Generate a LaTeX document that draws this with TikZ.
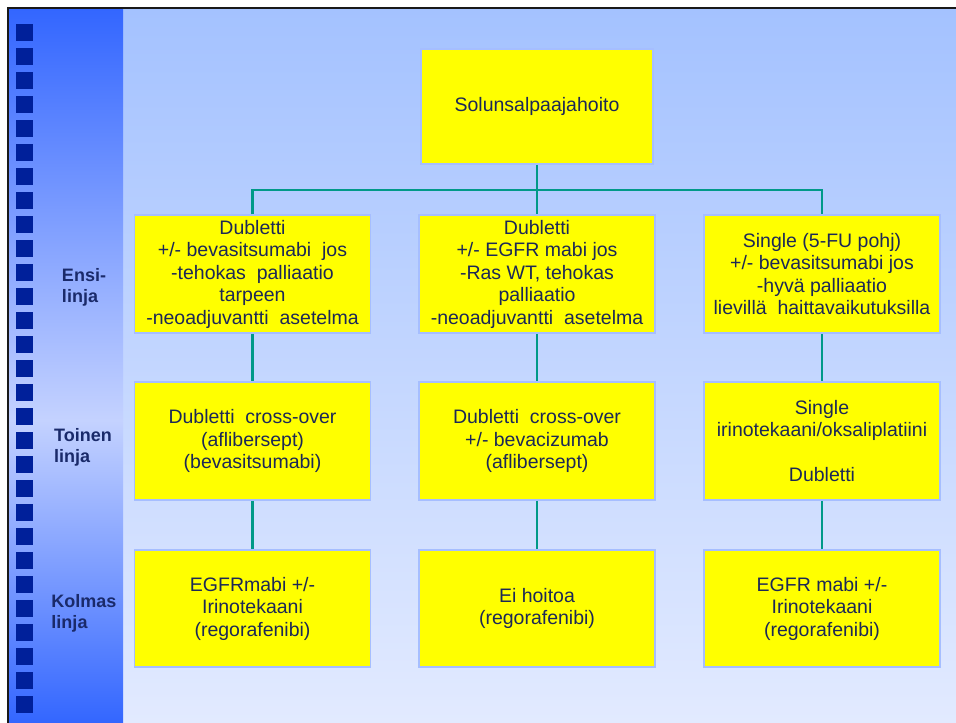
\documentclass[tikz,border=0pt]{standalone}
\usepackage{fontspec}
\setmainfont{Liberation Sans}
\definecolor{stripdark}{HTML}{3366FF}
\definecolor{striplight}{HTML}{C4D2FF}
\definecolor{bgtop}{HTML}{A4C2FF}
\definecolor{bgbot}{HTML}{E2EAFF}
\definecolor{sq}{HTML}{00209A}
\definecolor{boxfill}{HTML}{FFFF00}
\definecolor{boxedge}{HTML}{A6BEFF}
\definecolor{txt}{HTML}{1C2857}
\definecolor{lbl}{HTML}{1A2A6A}
\definecolor{conn}{HTML}{009988}
\tikzset{
  box/.style={draw=boxedge, line width=1.5pt, fill=boxfill, text=txt,
    minimum width=236pt, minimum height=118pt, align=center, inner sep=2pt,
    font=\fontsize{19.5}{22.5}\selectfont},
  lab/.style={text=lbl, align=left, font=\bfseries\fontsize{18}{21}\selectfont, inner sep=0pt},
  link/.style={draw=conn, line width=2.5pt},
  sqr/.style={fill=sq},
}
\begin{document}
\begin{tikzpicture}[x=1pt,y=-1pt]
\useasboundingbox (0,0) rectangle (956,723);
\fill[white] (0,0) rectangle (956,723);
% main background
\shade[top color=bgtop, bottom color=bgbot] (9,9) rectangle (956,723);
% left strip
\shade[top color=stripdark, bottom color=striplight] (9,9) rectangle (123,420);
\shade[top color=striplight, bottom color=stripdark] (9,420) rectangle (123,723);
% frame lines
\draw[line width=2.2pt, black!90] (8,723) -- (8,8) -- (956,8);
% squares
\foreach \k in {0,...,28} {
  \fill[sqr] (16,{24+24*\k}) rectangle (33,{41+24*\k});
}
% labels
\node[lab] (lab1) at (84,287) {Ensi-\\linja};
\node[lab] (lab2) at (83,447) {Toinen\\linja};
\node[lab] (lab3) at (84,613) {Kolmas\\linja};
% boxes
\node[box, minimum width=232pt, minimum height=115pt] (top) at (537,106.5) {Solunsalpaajahoito};
\node[box] (a1) at (252.5,274) {Dubletti\\+/- bevasitsumabi\ \ jos\\-tehokas\ \ palliaatio\\tarpeen\\-neoadjuvantti\ \ asetelma};
\node[box] (b1) at (537,274) {Dubletti\\+/- EGFR mabi jos\\-Ras WT, tehokas\\palliaatio\\-neoadjuvantti\ \ asetelma};
\node[box] (c1) at (822,274) {Single (5-FU pohj)\\+/- bevasitsumabi jos\\-hyvä palliaatio\\lievillä\ \ haittavaikutuksilla};
\node[box] (a2) at (252.5,441) {Dubletti\ \ cross-over\\(aflibersept)\\(bevasitsumabi)};
\node[box] (b2) at (537,441) {Dubletti\ \ cross-over\\+/- bevacizumab\\(aflibersept)};
\node[box] (c2) at (822,441) {Single\\irinotekaani/oksaliplatiini\\[22.5pt]Dubletti};
\node[box, minimum height=117pt] (a3) at (252.5,608.5) {EGFRmabi +/-\\Irinotekaani\\(regorafenibi)};
\node[box, minimum height=117pt] (b3) at (537,608.5) {Ei hoitoa\\(regorafenibi)};
\node[box, minimum height=117pt] (c3) at (822,608.5) {EGFR mabi +/-\\Irinotekaani\\(regorafenibi)};
% connectors
\coordinate (bus) at (537,190);
\draw[link] (top.south) -- (bus);
\draw[link] (a1.north) |- (bus) -| (c1.north);
\draw[link] (bus) -- (b1.north);
\draw[link] (a1.south) -- (a2.north);
\draw[link] (b1.south) -- (b2.north);
\draw[link] (c1.south) -- (c2.north);
\draw[link] (a2.south) -- (a3.north);
\draw[link] (b2.south) -- (b3.north);
\draw[link] (c2.south) -- (c3.north);
\end{tikzpicture}
\end{document}
